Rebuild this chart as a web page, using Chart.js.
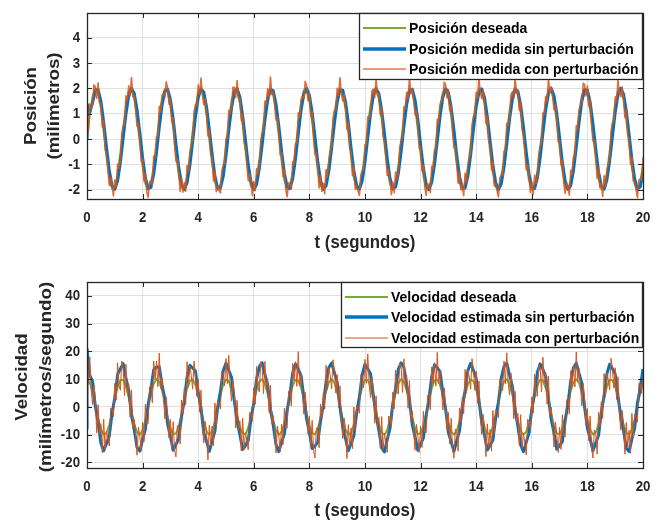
<!DOCTYPE html>
<html>
<head>
<meta charset="utf-8">
<script src="https://cdn.jsdelivr.net/npm/chart.js@4.4.1/dist/chart.umd.min.js"></script>
<style>
  body { margin: 0; background: #fff; }
  .panel { position: absolute; left: 0; width: 664px; }
</style>
</head>
<body>
<div class="panel" style="top:0;height:260px"><canvas id="posChart" width="664" height="260"></canvas></div>
<div class="panel" style="top:260px;height:262px"><canvas id="velChart" width="664" height="262"></canvas></div>
<script>
var xTicks = [0, 2, 4, 6, 8, 10, 12, 14, 16, 18, 20];
var posTicks = [-2, -1, 0, 1, 2, 3, 4];
var velTicks = [-20, -10, 0, 10, 20, 30, 40];

var posLabels = ['Posición deseada', 'Posición medida sin perturbación', 'Posición medida con perturbación'];
var velLabels = ['Velocidad deseada', 'Velocidad estimada sin perturbación', 'Velocidad estimada con perturbación'];

// sample spacing (s) of the series below
var stepCoarse = 0.1;
var stepFine = 0.05;

var posDeseada = [
  0, .96, 1.68, 1.99, 1.82, 1.20, .28, -.70, -1.51, -1.96, -1.92, -1.41, -.56,
  .43, 1.31, 1.88, 1.98, 1.60, .82, -.15, -1.09, -1.76, -2.00, -1.75, -1.07, -.13,
  .84, 1.61, 1.98, 1.87, 1.30, .41, -.58, -1.42, -1.92, -1.95, -1.50, -.68,
  .30, 1.21, 1.83, 1.99, 1.67, .94, -.02, -.97, -1.69, -2.00, -1.81, -1.18, -.27,
  .72, 1.52, 1.96, 1.91, 1.40, .54, -.45, -1.33, -1.88, -1.98, -1.59, -.81,
  .17, 1.10, 1.77, 2.00, 1.74, 1.06, .12, -.86, -1.62, -1.98, -1.86, -1.29, -.40,
  .59, 1.44, 1.93, 1.95, 1.49, .67, -.32, -1.23, -1.83, -1.99, -1.66, -.93,
  .04, .99, 1.70, 2.00, 1.80, 1.17, .25, -.74, -1.54, -1.96, -1.91, -1.39, -.52,
  .46, 1.34, 1.89, 1.97, 1.58, .79, -.19, -1.12, -1.78, -2.00, -1.73, -1.04, -.10,
  .87, 1.63, 1.99, 1.86, 1.27, .38, -.61, -1.45, -1.93, -1.94, -1.48, -.65,
  .33, 1.24, 1.84, 1.99, 1.65, .91, -.05, -1.00, -1.71, -2.00, -1.80, -1.15, -.23,
  .75, 1.55, 1.97, 1.90, 1.37, .51, -.48, -1.35, -1.89, -1.97, -1.56, -.78,
  .20, 1.13, 1.78, 2.00, 1.72, 1.03, .08, -.89, -1.64, -1.99, -1.85, -1.26, -.36,
  .63, 1.46, 1.94, 1.94, 1.47, .63, -.35, -1.25, -1.85, -1.99, -1.64, -.90,
  .07, 1.02, 1.72, 2.00, 1.79, 1.14, .21, -.77, -1.56, -1.97, -1.90, -1.36, -.49,
  .50, 1.37, 1.90, 1.97, 1.55, .76, -.22, -1.15, -1.79, -2.00, -1.72, -1.01
];

// first two samples both sit at t = 0 (start-up jump)
var posSinPert = [
  0, 1.4,
  1.05, 1.43, 1.92, 1.95, 1.50, .67, -.31, -1.22, -1.84, -1.99, -1.66, -.93,
  .03, .98, 1.70, 2.00, 1.81, 1.16, .25, -.73, -1.53, -1.96, -1.91, -1.39, -.53,
  .46, 1.34, 1.88, 1.97, 1.57, .79, -.19, -1.11, -1.77, -2.00, -1.73, -1.05,
  -.11, .87, 1.63, 1.98, 1.86, 1.27, .38, -.60, -1.45, -1.94, -1.94, -1.48, -.66,
  .34, 1.23, 1.84, 1.99, 1.66, .91, -.05, -1.00, -1.70, -2.00, -1.80, -1.15,
  -.23, .75, 1.54, 1.96, 1.91, 1.38, .52, -.48, -1.35, -1.89, -1.96, -1.57, -.78,
  .20, 1.13, 1.78, 2.00, 1.73, 1.04, .09, -.89, -1.63, -1.99, -1.85, -1.27,
  -.36, .62, 1.46, 1.94, 1.93, 1.47, .65, -.36, -1.25, -1.84, -1.99, -1.65, -.90,
  .06, 1.01, 1.72, 1.99, 1.80, 1.14, .21, -.77, -1.56, -1.97, -1.90, -1.36, -.50,
  .49, 1.37, 1.90, 1.97, 1.55, .76, -.22, -1.14, -1.79, -2.00, -1.72, -1.02,
  -.08, .90, 1.64, 1.99, 1.84, 1.25, .35, -.64, -1.47, -1.94, -1.94, -1.46, -.63,
  .37, 1.27, 1.85, 1.98, 1.63, .89, -.08, -1.02, -1.72, -2.00, -1.78, -1.13,
  -.20, .78, 1.56, 1.97, 1.89, 1.35, .48, -.51, -1.38, -1.91, -1.96, -1.54, -.74,
  .24, 1.16, 1.80, 2.00, 1.71, 1.00, .05, -.92, -1.66, -1.99, -1.84, -1.24,
  -.33, .66, 1.49, 1.94, 1.93, 1.45, .61, -.38, -1.28, -1.86, -1.99, -1.62, -.87,
  .10, 1.05, 1.74, 2.00, 1.77, 1.11, .18, -.80, -1.57, -1.98, -1.89, -1.33
];

var posConPert = [
  .30, .29, 1.38, 1.21, 1.38, 2.14, 2.07, 1.61, 2.22, 1.45, 1.42, .48, .73, -.40, -.58, -1.20, -1.83, -1.51, -1.81, -2.25,
  -1.62, -1.91, -.99, -1.15, -.86, .18, .51, .55, 1.71, 1.54, 2.10, 1.71, 2.43, 1.66, 1.72, 1.19, .50, .63, 0, -.89,
  -.79, -1.67, -1.34, -2.09, -2.30, -1.68, -1.67, -1.80, -.67, -.72, .09, .09, 1.29, 1.08, 1.73, 1.79, 1.66, 2.26, 2.02, 1.38,
  1.60, .68, .83, -.24, -.88, -.78, -1.34, -2.07, -1.52, -2.10, -1.73, -2.06, -1.05, -1.30, -.56, -.26, -.02, 1.06, 1.36, 1.32,
  2.13, 1.77, 2.41, 1.74, 1.37, 1.59, 1.02, .12, .38, -.61, -.75, -1.65, -1.24, -2.08, -1.88, -2.02, -2.13, -1.26, -1.03, -1.00,
  .03, .03, 1.14, 1.00, 1.22, 2.04, 2.04, 1.64, 2.31, 1.60, 1.62, .72, .99, -.13, -.33, -.98, -1.65, -1.37, -1.73, -2.24,
  -1.68, -2.04, -1.17, -1.39, -1.11, -.08, .25, .30, 1.50, 1.38, 1.99, 1.66, 2.45, 1.75, 1.86, 1.38, .74, .89, .27, -.63,
  -.56, -1.48, -1.20, -2.00, -2.28, -1.73, -1.78, -1.97, -.89, -.97, -.18, -.18, 1.04, .87, 1.56, 1.68, 1.61, 2.28, 2.10, 1.52,
  1.79, .91, 1.09, .03, -.62, -.55, -1.15, -1.93, -1.43, -2.07, -1.77, -2.16, -1.21, -1.51, -.81, -.52, -.28, .81, 1.14, 1.14,
  2.00, 1.71, 2.42, 1.81, 1.50, 1.78, 1.25, .38, .65, -.35, -.52, -1.45, -1.09, -1.98, -1.84, -2.05, -2.23, -1.42, -1.24, -1.23,
  -.22, -.23, .88, .78, 1.04, 1.91, 1.97, 1.64, 2.37, 1.73, 1.80, .94, 1.24, .13, -.07, -.73, -1.44, -1.21, -1.63, -2.20,
  -1.70, -2.12, -1.31, -1.58, -1.34, -.34, -.02, .05, 1.27, 1.19, 1.85, 1.58, 2.44, 1.80, 1.98, 1.55, .95, 1.13, .53, -.37,
  -.31, -1.26, -1.03, -1.89, -2.23, -1.75, -1.86, -2.11, -1.08, -1.20, -.43, -.44, .78, .63, 1.36, 1.53, 1.52, 2.25, 2.14, 1.62,
  1.95, 1.12, 1.33, .29, -.35, -.29, -.92, -1.75, -1.31, -2.01, -1.78, -2.24, -1.35, -1.70, -1.03, -.77, -.55, .55, .90, .94,
  1.85, 1.61, 2.39, 1.84, 1.60, 1.93, 1.45, .62, .91, -.08, -.26, -1.22, -.90, -1.85, -1.77, -2.05, -2.29, -1.54, -1.41, -1.46,
  -.48, -.50, .62, .53, .83, 1.75, 1.86, 1.60, 2.40, 1.82, 1.94, 1.14, 1.48, .39, .20, -.48, -1.21, -1.02, -1.49, -2.12,
  -1.69, -2.18, -1.43, -1.75, -1.56, -.58, -.28, -.21, 1.03, .98, 1.68, 1.47, 2.39, 1.82, 2.06, 1.70, 1.15, 1.36, .78, -.11,
  -.05, -1.02, -.83, -1.75, -2.15, -1.72, -1.91, -2.22, -1.24, -1.41, -.68, -.71, .52, .38, 1.14, 1.35, 1.40, 2.20, 2.15, 1.70,
  2.09, 1.31, 1.56, .55, -.09, -.04, -.69, -1.55, -1.16, -1.92, -1.75, -2.27, -1.45, -1.86, -1.24, -1.01, -.81, .29, .65, .71,
  1.67, 1.48, 2.32, 1.84, 1.67, 2.06, 1.63, .84, 1.16, .18, 0, -.99, -.70, -1.67, -1.67, -2.01, -2.32, -1.63, -1.57, -1.64,
  -.71
];

var velDeseada = [
  10, 8.8, 5.4, 0.7, -4.2, -8.0, -9.9, -9.4, -6.5, -2.1, 2.8, 7.1, 9.6,
  9.8, 7.5, 3.5, -1.5, -6.0, -9.1, -10.0, -8.4, -4.8, 0.0, 4.8, 8.4, 10.0,
  9.1, 5.9, 1.4, -3.6, -7.6, -9.8, -9.6, -7.0, -2.8, 2.2, 6.6, 9.4,
  9.9, 8.0, 4.1, -0.8, -5.5, -8.8, -10.0, -8.7, -5.3, -0.6, 4.2, 8.1, 9.9,
  9.3, 6.5, 2.0, -2.9, -7.2, -9.6, -9.8, -7.5, -3.4, 1.5, 6.1, 9.1,
  10.0, 8.3, 4.7, -0.1, -4.9, -8.5, -10.0, -9.0, -5.9, -1.3, 3.6, 7.7, 9.8,
  9.5, 7.0, 2.7, -2.3, -6.7, -9.4, -9.9, -7.9, -4.0, 0.9, 5.6, 8.9,
  10.0, 8.7, 5.3, 0.5, -4.3, -8.1, -9.9, -9.3, -6.4, -1.9, 3.0, 7.2, 9.7,
  9.7, 7.4, 3.3, -1.6, -6.2, -9.2, -10.0, -8.3, -4.6, 0.2, 5.0, 8.5, 10.0,
  9.0, 5.8, 1.2, -3.7, -7.7, -9.8, -9.5, -6.9, -2.6, 2.4, 6.7, 9.5,
  9.9, 7.9, 3.9, -1.0, -5.6, -8.9, -10.0, -8.6, -5.2, -0.4, 4.4, 8.2, 9.9,
  9.3, 6.3, 1.9, -3.1, -7.3, -9.7, -9.7, -7.4, -3.2, 1.7, 6.2, 9.2,
  10.0, 8.2, 4.5, -0.3, -5.1, -8.6, -10.0, -9.0, -5.7, -1.1, 3.8, 7.8, 9.8,
  9.5, 6.8, 2.5, -2.5, -6.8, -9.5, -9.8, -7.8, -3.8, 1.1, 5.7, 8.9,
  10.0, 8.6, 5.1, 0.4, -4.5, -8.2, -9.9, -9.2, -6.3, -1.8, 3.2, 7.3, 9.7,
  9.7, 7.3, 3.1, -1.8, -6.3, -9.3, -9.9, -8.2, -4.5, 0.4, 5.1, 8.6
];

// first two samples both sit at t = 0 (start-up spike)
var velSinPert = [
  -8, 21,
  11.5, 9.2, 0.2, -5.5, -13.1, -15.8, -13.2, -10.6, -2.4, 3.3, 11.6, 13.8,
  15.6, 10.4, 6.1, -3.0, -8.2, -14.6, -15.9, -11.8, -8.0, 0.9, 6.5, 13.4, 14.3,
  14.5, 8.0, 2.9, -6.2, -10.6, -15.6, -13.6, -11.3, -3.5, 2.5, 10.8, 15.0,
  14.0, 12.9, 5.4, -0.4, -9.2, -12.4, -16.0, -12.3, -8.8, -0.1, 5.6, 13.0, 15.8,
  13.2, 10.6, 2.2, -5.2, -10.0, -15.3, -13.9, -12.1, -4.3, 1.5, 10.0, 14.6,
  15.9, 11.7, 7.9, -1.0, -6.6, -13.6, -16.1, -12.7, -9.7, -1.2, 4.6, 12.4, 15.5,
  13.5, 11.3, 3.3, -4.3, -9.3, -15.0, -14.1, -12.7, -5.2, 0.6, 9.2, 14.2,
  15.8, 12.3, 8.8, 0, -7.3, -11.4, -15.8, -13.2, -10.4, -2.1, 3.7, 11.6, 15.4,
  13.8, 11.9, 4.2, -3.2, -8.5, -14.7, -16.2, -11.7, -7.7, 1.1, 6.7, 13.6, 15.9,
  14.3, 7.9, 2.6, -6.4, -10.8, -15.6, -13.5, -11.2, -3.1, 2.8, 10.9, 15.2,
  14.1, 12.7, 5.1, -0.7, -9.2, -12.6, -16.0, -12.1, -8.6, 0.2, 5.8, 13.1, 15.7,
  13.2, 10.3, 2.1, -5.5, -10.2, -15.5, -13.8, -11.9, -4.0, 1.8, 10.1, 14.6,
  15.8, 11.5, 7.6, -1.3, -6.9, -13.7, -16.1, -12.7, -9.4, -0.9, 4.9, 12.5, 15.5,
  13.5, 11.0, 3.0, -4.6, -9.4, -15.2, -13.9, -12.5, -4.9, 0.9, 9.4, 14.2,
  15.8, 12.1, 8.5, -0.2, -7.6, -11.5, -15.8, -13.0, -10.3, -1.9, 4.0, 11.8, 15.4,
  13.8, 11.8, 3.9, -3.5, -8.7, -14.9, -16.1, -11.5, -7.6, 1.4, 6.9, 13.7
];

var velConPert = [
  17.5, 8.1, 18, 6.1, .8, 7.9, 2.9, -9.3, .8, -9.9, -6, -16.5, -4.4, -15.4, -8.8, -11.2, -14.1, -.5, -.6, -3.5,
  8.5, 2.4, 15.9, 7.8, 6, 16.5, 14.3, 4.1, 15.4, 5.1, 8.4, -3.7, 6.1, -7.8, -4.5, -10.7, -17.4, -7.3, -10.5, -15.8,
  -5.5, -12.5, 1, -6.1, -6, 7.1, 8, 1.5, 16.5, 9.8, 16.5, 7.3, 19.4, 6.7, 10.4, 3.7, -4.3, 3.6, -2.5, -11.2,
  -4.5, -15.2, -5.3, -15.5, -18, -6.7, -6.8, -13.3, 2.5, -2.4, 6.8, .7, 16.3, 7.3, 14.8, 11.4, 6.4, 16.5, 12, 3.8,
  10.1, -1.9, 6, -7.1, -12.9, -5.2, -9, -19.1, -6.5, -14, -6.9, -14, 1.4, -6.8, 2.3, 1.3, -.8, 12.9, 12.1, 7.6,
  17.4, 8.4, 18.6, 7.2, 2.1, 9.5, 4.5, -7.6, 2.4, -8.5, -5, -15.8, -4, -15.5, -9.3, -12.1, -15.4, -2, -2.3, -5.2,
  6.9, .9, 14.6, 6.8, 5.4, 16.3, 14.5, 4.8, 16.4, 6.4, 9.9, -2, 7.9, -6.2, -3.1, -9.6, -16.6, -6.9, -10.5, -16.2,
  -6.3, -13.6, -.4, -7.6, -7.6, 5.5, 6.5, .3, 15.6, 9.3, 16.3, 7.4, 19.9, 7.6, 11.8, 5.2, -2.6, 5.3, -.9, -9.8,
  -3.4, -14.4, -4.8, -15.4, -18.4, -7.5, -7.9, -14.7, 1, -4, 5.1, -.8, 15, 6.3, 14.1, 11.2, 6.5, 17, 12.9, 5,
  11.6, -.3, 7.6, -5.4, -11.4, -4, -8.1, -18.6, -6.4, -14.4, -7.6, -15.1, 0, -8.3, .6, -.3, -2.3, 11.6, 11, 6.9,
  17.1, 8.5, 19.1, 8, 3.3, 10.9, 6.1, -5.9, 4, -7, -3.8, -14.9, -3.5, -15.4, -9.5, -12.8, -16.4, -3.3, -3.8, -6.8,
  5.3, -.7, 13.3, 5.7, 4.6, 15.9, 14.5, 5.2, 17.3, 7.5, 11.3, -.5, 9.5, -4.6, -1.6, -8.3, -15.6, -6.3, -10.3, -16.4,
  -6.9, -14.6, -1.6, -9.1, -9.3, 3.9, 5, -1.1, 14.4, 8.4, 15.9, 7.5, 19.6, 8.5, 12.9, 6.6, -1.1, 6.9, .8, -8.3,
  -2, -13.3, -4.1, -15.2, -18.5, -8, -8.8, -15.9, -.5, -5.6, 3.5, -2.4, 13.5, 5.1, 13.3, 10.7, 6.4, 17.4, 13.6, 6,
  12.9, 1.3, 9.4, -3.8, -9.9, -2.7, -7.1, -17.9, -6.1, -14.5, -8.1, -16, -1.3, -9.8, -1, -2, -3.9, 10.1, 9.8, 5.9,
  16.5, 8.4, 19.5, 8.7, 4.3, 12.2, 7.6, -4.3, 5.6, -5.5, -2.4, -13.8, -2.8, -15, -9.5, -13.2, -17.3, -4.5, -5.1, -8.4,
  3.6, -2.3, 11.8, 4.5, 3.8, 15.3, 14.3, 5.4, 17.9, 8.5, 12.5, 1, 11.1, -3, -.1, -7, -14.5, -5.5, -9.9, -16.4,
  -7.3, -15.3, -2.8, -10.5, -10.8, 2.3, 3.4, -2.6, 13.1, 7.4, 15.1, 7.2, 19.8, 9, 13.8, 7.8, .4, 8.5, 2.5, -6.6,
  -.6, -12.2, -3.3, -14.7, -18.4, -8.3, -9.5, -17, -1.9, -7.2, 1.8, -4.1, 12, 3.8, 12.1, 9.9, 6.1, 17.5, 14.1, 6.9,
  14.1, 2.7, 10.9, -2.2, -8.3, -1.2, -5.9, -17, -5.6, -14.4, -8.4, -16.7, -2.3, -11.2, -2.6, -3.6, -5.5, 8.5, 8.4, 4.8,
  11.8
];

var axisColor = '#262626';
var fontFamily = '"Liberation Sans", Arial, Helvetica, sans-serif';
// the reference figure is a little taller than wide, text is stretched to match
var textStretch = 1.15;

function toPoints(values, step, repeatsAtZero) {
    return values.map(function(v, i) {
        var k = Math.max(0, i - repeatsAtZero);
        return { x: Math.round(k * step * 100) / 100, y: v };
    });
}

function stretchedText(ctx, text, x, y, sx, sy) {
    ctx.save();
    ctx.translate(x, y);
    ctx.scale(sx, sy);
    ctx.fillText(text, 0, 0);
    ctx.restore();
}

// MATLAB-like box with inward tick marks and tick labels
var axesBox = {
    id: 'axesBox',
    afterDatasetsDraw: function(chart) {
        var a = chart.chartArea, ctx = chart.ctx;
        var xs = chart.scales.x, ys = chart.scales.y;
        ctx.save();
        ctx.strokeStyle = axisColor;
        ctx.lineWidth = 1;
        ctx.beginPath();
        xs.ticks.forEach(function(t) {
            var px = Math.round(xs.getPixelForValue(t.value)) + 0.5;
            ctx.moveTo(px, a.bottom); ctx.lineTo(px, a.bottom - 5);
            ctx.moveTo(px, a.top); ctx.lineTo(px, a.top + 5);
        });
        ys.ticks.forEach(function(t) {
            var py = Math.round(ys.getPixelForValue(t.value)) + 0.5;
            ctx.moveTo(a.left, py); ctx.lineTo(a.left + 5, py);
            ctx.moveTo(a.right, py); ctx.lineTo(a.right - 5, py);
        });
        ctx.stroke();
        ctx.lineWidth = 1.3;
        ctx.strokeRect(Math.round(a.left) + 0.5, Math.round(a.top) + 0.5,
            Math.round(a.right - a.left), Math.round(a.bottom - a.top));

        ctx.fillStyle = axisColor;
        ctx.font = 'bold 13px ' + fontFamily;
        ctx.textBaseline = 'middle';
        ctx.textAlign = 'center';
        xs.ticks.forEach(function(t) {
            stretchedText(ctx, String(t.value), xs.getPixelForValue(t.value), a.bottom + 19, 1.02, textStretch);
        });
        ctx.textAlign = 'right';
        ys.ticks.forEach(function(t) {
            stretchedText(ctx, String(t.value), a.left - 7, ys.getPixelForValue(t.value) + 0.5, 1.02, textStretch);
        });
        ctx.restore();
    }
};

var boxLegend = {
    id: 'boxLegend',
    afterDraw: function(chart, args, o) {
        var ctx = chart.ctx;
        ctx.save();
        ctx.fillStyle = '#fff';
        ctx.fillRect(o.left, o.top, o.right - o.left, o.bottom - o.top);
        ctx.strokeStyle = axisColor;
        ctx.lineWidth = 1.3;
        ctx.strokeRect(o.left + 0.5, o.top + 0.5, o.right - o.left - 1, o.bottom - o.top - 1);
        ctx.font = 'bold 14px ' + fontFamily;
        ctx.textBaseline = 'middle';
        chart.data.datasets.forEach(function(ds, i) {
            var y = o.rows[i];
            ctx.strokeStyle = o.colors[i];
            ctx.lineWidth = o.widths[i];
            ctx.beginPath();
            ctx.moveTo(o.lineFrom, y);
            ctx.lineTo(o.lineTo, y);
            ctx.stroke();
            ctx.fillStyle = '#000';
            stretchedText(ctx, ds.label, o.textX, y + 1, 1, 1.08);
        });
        ctx.restore();
    }
};

var axisTitles = {
    id: 'axisTitles',
    afterDraw: function(chart, args, o) {
        var ctx = chart.ctx, a = chart.chartArea;
        ctx.save();
        ctx.fillStyle = axisColor;
        ctx.textAlign = 'center';
        ctx.textBaseline = 'middle';
        ctx.font = 'bold 16px ' + fontFamily;
        stretchedText(ctx, o.xTitle, (a.left + a.right) / 2, o.xTitleY, 1.05, textStretch);
        o.yTitle.forEach(function(line, i) {
            ctx.save();
            ctx.translate(o.yTitleX[i], o.yTitleMid);
            ctx.rotate(-Math.PI / 2);
            ctx.scale(1.17, 1);
            ctx.fillText(line, 0, 0);
            ctx.restore();
        });
        ctx.restore();
    }
};

function makeChart(canvasId, s) {
    return new Chart(document.getElementById(canvasId), {
        type: 'line',
        data: {
            datasets: [{
                label: s.labels[0],
                data: toPoints(s.desired, stepCoarse, 0),
                borderColor: '#77AC30',
                borderWidth: 2,
                order: 3
            }, {
                label: s.labels[1],
                data: toPoints(s.clean, stepCoarse, 1),
                borderColor: '#0072BD',
                borderWidth: 3,
                order: 2
            }, {
                label: s.labels[2],
                data: toPoints(s.noisy, stepFine, 0),
                borderColor: s.noisyColor,
                borderWidth: s.noisyWidth,
                order: 1
            }]
        },
        options: {
            responsive: false,
            animation: false,
            events: [],
            elements: {
                point: { radius: 0 },
                line: { tension: 0, borderJoinStyle: 'round' }
            },
            layout: { padding: { top: s.padTop, right: 21, bottom: 0, left: 0 } },
            plugins: {
                legend: { display: false },
                tooltip: { enabled: false },
                boxLegend: s.legend,
                axisTitles: s.titles
            },
            scales: {
                x: {
                    type: 'linear',
                    min: 0,
                    max: 20,
                    afterBuildTicks: function(sc) { sc.ticks = xTicks.map(function(v) { return { value: v }; }); },
                    afterFit: function(sc) { sc.height = s.xAxisHeight; },
                    grid: { color: '#e0e0e0', drawTicks: false },
                    border: { display: false },
                    ticks: { display: false }
                },
                y: {
                    min: s.yMin,
                    max: s.yMax,
                    afterBuildTicks: function(sc) { sc.ticks = s.yTicks.map(function(v) { return { value: v }; }); },
                    afterFit: function(sc) { sc.width = 87; },
                    grid: { color: '#e0e0e0', drawTicks: false },
                    border: { display: false },
                    ticks: { display: false }
                }
            }
        },
        plugins: [axesBox, boxLegend, axisTitles]
    });
}

window.onload = function() {
    window.posChart = makeChart('posChart', {
        labels: posLabels,
        desired: posDeseada,
        clean: posSinPert,
        noisy: posConPert,
        noisyColor: 'rgba(217, 83, 25, 0.85)',
        noisyWidth: 1.6,
        yMin: -2.37,
        yMax: 4.98,
        yTicks: posTicks,
        padTop: 13,
        xAxisHeight: 61,
        legend: {
            left: 359, right: 643, top: 13, bottom: 80,
            rows: [28, 49, 69], lineFrom: 363, lineTo: 406, textX: 409,
            colors: ['#77AC30', '#0072BD', '#EC9A78'], widths: [2, 3.5, 2]
        },
        titles: {
            xTitle: 't (segundos)', xTitleY: 243,
            yTitle: ['Posición', '(milímetros)'], yTitleX: [32, 55], yTitleMid: 106
        }
    });
    window.velChart = makeChart('velChart', {
        labels: velLabels,
        desired: velDeseada,
        clean: velSinPert,
        noisy: velConPert,
        noisyColor: '#D95319',
        noisyWidth: 1,
        yMin: -22,
        yMax: 45,
        yTicks: velTicks,
        padTop: 22,
        xAxisHeight: 54,
        legend: {
            left: 341, right: 643, top: 22, bottom: 88,
            rows: [37, 57, 78], lineFrom: 345, lineTo: 388, textX: 391,
            colors: ['#77AC30', '#0072BD', '#D95319'], widths: [2, 3.5, 1.2]
        },
        titles: {
            xTitle: 't (segundos)', xTitleY: 251,
            yTitle: ['Velocidad', '(milímetros/segundo)'], yTitleX: [23, 47], yTitleMid: 117
        }
    });
};
</script>
</body>
</html>
